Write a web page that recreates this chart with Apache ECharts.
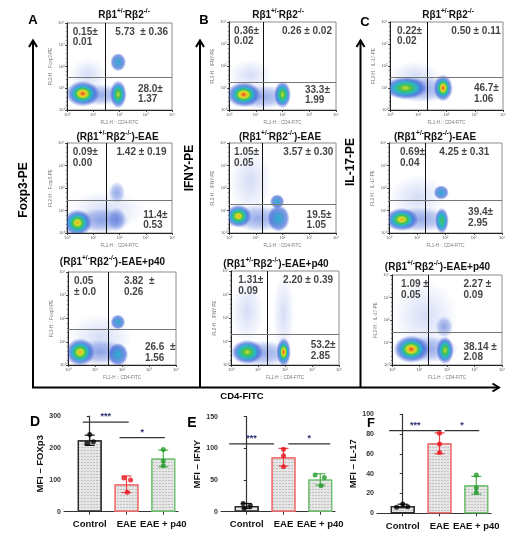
<!DOCTYPE html>
<html><head><meta charset="utf-8">
<script src="https://cdn.jsdelivr.net/npm/echarts@6/dist/echarts.min.js"></script>
<style>html,body{margin:0;padding:0;background:#fff}#c{width:526px;height:538px}</style>
</head><body><div id="c"></div>
<script>
// ================= DATA =================
// Flow cytometry: quadrant gates [x, y] in log10 decades
const gatesA = [[1.45, 1.50], [1.48, 1.47], [1.48, 1.55]];
const gatesB = [[1.27, 1.27], [1.23, 1.29], [1.33, 1.32]];
const gatesC = [[1.31, 1.50], [1.27, 1.47], [1.30, 1.47]];
// quadrant percentages [UL, UR, LR]
const pctA = [['0.15±\n0.01', '5.73  ± 0.36', '28.0±\n1.37'], ['0.09±\n0.00', '1.42 ± 0.19', '11.4±\n0.53'], ['0.05\n± 0.0', '3.82  ±\n0.26', '26.6  ±\n1.56']];
const pctB = [['0.36±\n0.02', '0.26 ± 0.02', '33.3±\n1.99'], ['1.05±\n0.05', '3.57 ± 0.30', '19.5±\n1.05'], ['1.31±\n0.09', '2.20 ± 0.39', '53.2±\n2.85']];
const pctC = [['0.22±\n0.02', '0.50 ± 0.11', '46.7±\n1.06'], ['0.69±\n0.04', '4.25 ± 0.31', '39.4±\n2.95'], ['1.09 ±\n0.05', '2.27 ±\n0.09', '38.14 ±\n2.08']];
// cell populations: [centre x, centre y, spread x, spread y, density level] (decades)
const clustersA1 = [[0.8, 1.6, 0.7, 0.8, -1], [1.2, 0.7, 1.1, 0.5, 0], [0.6, 0.75, 0.65, 0.6, 5], [1.95, 0.72, 0.32, 0.65, 3], [1.95, 2.2, 0.3, 0.42, 1]];
const clustersA2 = [[1.5, 1.0, 1.5, 0.9, -1], [1.3, 0.55, 1.1, 0.55, 0], [1.9, 0.6, 0.35, 0.55, 0], [1.9, 1.8, 0.32, 0.48, 0], [0.4, 0.45, 0.55, 0.6, 4]];
const clustersA3 = [[1.2, 1.2, 1.2, 1.0, -1], [1.2, 0.55, 1.0, 0.55, 0], [0.45, 0.55, 0.55, 0.6, 4], [1.85, 0.45, 0.38, 0.5, 1], [1.85, 1.85, 0.27, 0.32, 1]];
const clustersB1 = [[0.8, 1.6, 0.8, 0.7, -1], [1.2, 0.6, 1.1, 0.55, 0], [0.55, 0.7, 0.65, 0.58, 5], [2.0, 0.7, 0.32, 0.62, 3]];
const clustersB2 = [[0.8, 2.3, 0.8, 1.5, -1], [1.1, 0.65, 1.0, 0.6, 0], [0.35, 0.75, 0.5, 0.52, 4], [1.85, 0.65, 0.42, 0.6, 1], [1.8, 1.4, 0.27, 0.32, 1]];
const clustersB3 = [[1.95, 2.2, 0.4, 1.8, -1], [0.6, 2.3, 0.6, 1.4, -1], [1.2, 0.5, 1.0, 0.55, 0], [0.6, 0.55, 0.6, 0.52, 3], [1.95, 0.55, 0.27, 0.62, 5]];
const clustersC1 = [[0.9, 1.6, 0.9, 0.6, -1], [1.1, 0.95, 1.2, 0.6, 0], [0.55, 1.0, 0.78, 0.52, 3], [1.88, 1.0, 0.34, 0.62, 5]];
const clustersC2 = [[1.0, 1.6, 1.0, 1.0, -1], [1.1, 0.6, 1.1, 0.55, 0], [0.45, 0.6, 0.6, 0.52, 4], [1.87, 0.55, 0.24, 0.58, 2], [1.85, 1.8, 0.27, 0.32, 1]];
const clustersC3 = [[1.2, 2.2, 1.2, 1.6, -1], [1.3, 0.7, 1.1, 0.6, 0], [1.9, 1.7, 0.32, 0.48, 0], [0.7, 0.7, 0.65, 0.62, 5], [1.93, 0.65, 0.32, 0.62, 3]];
const decadeLabels = ['10⁰', '10¹', '10²', '10³', '10⁴'];

// Bar charts (MFI)
const barCats = ['Control', 'EAE', 'EAE + p40'];
const dMean = [224, 86, 167], dSD = [16, 26, 26];
const dPts = [[242, 214, 219], [106, 99, 61], [195, 159, 144]];
const eMean = [9, 86, 51], eSD = [4, 14, 9];
const ePts = [[13, 5.5, 9.5], [98.5, 88.5, 71], [58, 54, 41]];
const fMean = [7.4, 70.7, 28.3], fSD = [1.8, 10.5, 9];
const fPts = [[6, 9.4, 6.7], [80.8, 70, 61.3], [38.7, 25.9, 20.9]];
// significance bars [x from, x to, y]
const dSig = [[-0.19, 1.06, 281], [0.81, 2.04, 232.5]];
const eSig = [[-0.48, 0.74, 107], [1.13, 2.27, 107]];
const fSig = [[-0.37, 1.05, 83.5], [1.14, 2.08, 83.5]];
const sigText = ['***', '*'];

// ================= LAYOUT / STYLE =================
const FONT = '"Liberation Sans", Arial, Helvetica, sans-serif';
const rowTitles = [
  '{b|Rβ1}{s|+/-}{b|Rβ2}{s|-/-}',
  '{b|(Rβ1}{s|+/-}{b|Rβ2}{s|-/-}{b|)-EAE}',
  '{b|(Rβ1}{s|+/-}{b|Rβ2}{s|-/-}{b|)-EAE+p40}'
];
const panels = [
  {cl: clustersA1, g: gatesA[0], t: pctA[0], yn: 'FL2-H :: Foxp3-PE', box: [67, 23, 105, 87], row: 0, tx: 124, ty: 15, ul: 0.22, ur: [3.85, 'right'], lr: [2.7, 0.72]},
  {cl: clustersA2, g: gatesA[1], t: pctA[1], yn: 'FL2-H :: Foxp3-PE', box: [67, 143, 105, 90], row: 1, tx: 117.5, ty: 137, ul: 0.22, ur: [3.79, 'right'], lr: [2.9, 0.56]},
  {cl: clustersA3, g: gatesA[2], t: pctA[2], yn: 'FL2-H :: Foxp3-PE', box: [68, 272, 108, 93], row: 2, tx: 112.5, ty: 262, ul: 0.22, ur: [2.07, 'left'], lr: [2.85, 0.52]},
  {cl: clustersB1, g: gatesB[0], t: pctB[0], yn: 'FL2-H :: IFNY-PE', box: [229, 22, 107, 88], row: 0, tx: 278, ty: 15, ul: 0.19, ur: [3.85, 'right'], lr: [2.84, 0.68]},
  {cl: clustersB2, g: gatesB[1], t: pctB[1], yn: 'FL2-H :: IFNY-PE', box: [229, 143, 107, 90], row: 1, tx: 280, ty: 137, ul: 0.19, ur: [3.9, 'right'], lr: [2.9, 0.56]},
  {cl: clustersB3, g: gatesB[2], t: pctB[2], yn: 'FL2-H :: IFNY-PE', box: [231, 271, 108, 94], row: 2, tx: 276, ty: 264, ul: 0.27, ur: [3.78, 'right'], lr: [2.95, 0.6]},
  {cl: clustersC1, g: gatesC[0], t: pctC[0], yn: 'FL2-H :: IL-17-PE', box: [390, 22, 113, 88], row: 0, tx: 448, ty: 15, ul: 0.25, ur: [3.92, 'right'], lr: [2.97, 0.75]},
  {cl: clustersC2, g: gatesC[1], t: pctC[1], yn: 'FL2-H :: IL-17-PE', box: [389, 143, 113, 90], row: 1, tx: 435, ty: 137, ul: 0.39, ur: [3.55, 'right'], lr: [2.8, 0.67]},
  {cl: clustersC3, g: gatesC[2], t: pctC[2], yn: 'FL2-H :: IL-17-PE', box: [392, 275, 110, 90], row: 2, tx: 437.5, ty: 267, ul: 0.33, ur: [2.6, 'left'], lr: [2.6, 0.56]}
];
const RAMP = ['#dd3a1e', '#f2a323', '#d3df2c', '#43c152', '#29b5cf'];
function grad(l) {
  let stops = [];
  if (l >= 1) {
    const cols = RAMP.slice(5 - l), n = cols.length;
    cols.forEach((c, k) => stops.push({offset: n === 1 ? 0 : k * 0.52 / (n - 1), color: c}));
    stops.push({offset: 0.74, color: 'rgba(45,85,210,0.6)'});
    stops.push({offset: 1, color: 'rgba(45,85,210,0)'});
  } else if (l === 0) {
    stops = [{offset: 0, color: 'rgba(45,85,210,0.5)'}, {offset: 0.6, color: 'rgba(45,85,210,0.3)'}, {offset: 1, color: 'rgba(45,85,210,0)'}];
  } else {
    stops = [{offset: 0, color: 'rgba(45,85,210,0.2)'}, {offset: 1, color: 'rgba(45,85,210,0)'}];
  }
  return new echarts.graphic.RadialGradient(0.5, 0.5, 0.5, stops);
}

const grids = [], xAxes = [], yAxes = [], series = [], graphics = [];
const txt = (t) => ({fontFamily: FONT, fontWeight: 'bold', color: '#111', fontSize: 10, lineHeight: 10.5, ...t});

panels.forEach((p, i) => {
  grids.push({left: p.box[0], top: p.box[1], width: p.box[2], height: p.box[3], show: true,
    borderColor: '#8c8c8c', borderWidth: 1, containLabel: false, outerBoundsMode: 'none'});
  const ax = (name, gap, rot) => ({gridIndex: i, type: 'value', min: 0, max: 4, interval: 1,
    name: name, nameLocation: 'middle', nameGap: gap, nameRotate: rot,
    nameTextStyle: {fontSize: 4.5, color: '#777', fontFamily: FONT},
    axisLine: {show: true, onZero: false, lineStyle: {color: '#222', width: 1}},
    axisTick: {show: true, length: 2, lineStyle: {color: '#222', width: 0.8}},
    minorTick: {show: true, splitNumber: 5, length: 1.2, lineStyle: {color: '#444', width: 0.5}},
    axisLabel: {fontSize: 4, color: '#555', margin: 2.5, fontFamily: FONT, showMinLabel: true, showMaxLabel: true,
      formatter: v => decadeLabels[Math.round(v)]},
    splitLine: {show: false}});
  xAxes.push(ax('FL1-H :: CD4-FITC', 10, 0));
  yAxes.push(ax(p.yn, 14, 90));
  series.push({type: 'custom', xAxisIndex: i, yAxisIndex: i, clip: true, silent: true, z: 1,
    data: p.cl.slice().sort((a, b) => a[4] - b[4]),
    renderItem: (params, api) => {
      const c = api.coord([api.value(0), api.value(1)]);
      const s = api.size([api.value(2), api.value(3)]);
      return {type: 'circle', x: c[0], y: c[1], scaleX: s[0] / 10, scaleY: s[1] / 10,
        shape: {cx: 0, cy: 0, r: 10}, style: {fill: grad(api.value(4))}};
    }});
  series.push({type: 'scatter', xAxisIndex: i, yAxisIndex: i, symbolSize: 1, silent: true, z: 5,
    itemStyle: {color: 'transparent'},
    data: [
      {value: [p.ul, 3.82], label: {show: true, position: 'inside', align: 'left', verticalAlign: 'top', formatter: p.t[0], ...txt({})}},
      {value: [p.ur[0], 3.82], label: {show: true, position: 'inside', align: p.ur[1], verticalAlign: 'top', formatter: p.t[1], ...txt({})}},
      {value: [p.lr[0], p.lr[1]], label: {show: true, position: 'inside', align: 'left', verticalAlign: 'middle', formatter: p.t[2], ...txt({})}}
    ],
    markLine: {silent: true, symbol: 'none', animation: false, label: {show: false},
      data: [{xAxis: p.g[0], lineStyle: {color: '#111', width: 1, type: 'solid'}},
             {yAxis: p.g[1], lineStyle: {color: '#777', width: 1, type: 'solid'}}]}});
  graphics.push({type: 'text', x: p.tx, y: p.ty, style: {text: rowTitles[p.row], align: 'center', verticalAlign: 'middle',
    fill: '#111', rich: {b: {fontSize: 10, fontWeight: 'bold', fontFamily: FONT, fill: '#111', lineHeight: 14},
      s: {fontSize: 6.5, fontWeight: 'bold', fontFamily: FONT, fill: '#111', verticalAlign: 'top'}}}});
});

// ---- bar charts ----
const borderCols = ['#2b2b2b', '#f07070', '#72c272'];
const ptCols = ['#000000', '#e8141c', '#1f9a2a'];
const errCols = ['#111111', '#ee4444', '#4cb44c'];
const DECAL = {symbol: 'rect', symbolSize: 0.8, color: 'rgba(140,140,140,0.5)', dashArrayX: [[2, 1]], dashArrayY: [1, 1.5], rotation: 0};
const bars = [
  {mean: dMean, sd: dSD, pts: dPts, sig: dSig, jit: [[0, -0.08, 0.1], [-0.07, 0.11, 0.02], [0, 0, 0]],
   box: [64, 416, 114, 95.7], max: 300, interval: 100, name: 'MFI – FOXp3'},
  {mean: eMean, sd: eSD, pts: ePts, sig: eSig, jit: [[-0.1, -0.07, 0.1], [0, 0, 0], [-0.14, 0.11, 0.02]],
   box: [221, 416.7, 114, 95], max: 150, interval: 50, name: 'MFI – IFNY'},
  {mean: fMean, sd: fSD, pts: fPts, sig: fSig, jit: [[-0.17, 0, 0.14], [0, 0, 0], [0, 0, 0]],
   box: [377, 414.3, 114, 99], max: 100, interval: 20, name: 'MFI – IL-17'}
];
bars.forEach((b, k) => {
  const gi = 9 + k;
  grids.push({left: b.box[0], top: b.box[1], width: b.box[2], height: b.box[3], containLabel: false, outerBoundsMode: 'none'});
  xAxes.push({gridIndex: gi, type: 'value', min: -0.7, max: 2.4,
    axisLine: {show: true, onZero: false, lineStyle: {color: '#333', width: 1.2}},
    axisTick: {show: true, customValues: [0, 1, 2], length: 3, lineStyle: {color: '#333', width: 1}},
    axisLabel: {show: true, customValues: [0, 1, 2], formatter: v => barCats[Math.round(v)], fontSize: 9.5, fontWeight: 'bold',
      color: '#111', fontFamily: FONT, margin: 8},
    splitLine: {show: false}});
  yAxes.push({gridIndex: gi, type: 'value', min: 0, max: b.max, interval: b.interval,
    name: b.name, nameLocation: 'middle', nameGap: 17, nameRotate: 90,
    nameTextStyle: {fontSize: 9.5, fontWeight: 'bold', color: '#111', fontFamily: FONT},
    axisLine: {show: true, lineStyle: {color: '#333', width: 1.2}},
    axisTick: {show: true, length: 3, lineStyle: {color: '#333', width: 1}},
    axisLabel: {fontSize: 7, fontWeight: 'bold', color: '#333', margin: 3, fontFamily: FONT},
    splitLine: {show: false}});
  series.push({type: 'bar', xAxisIndex: gi, yAxisIndex: gi, barWidth: 24, z: 2, silent: true,
    data: b.mean.map((m, i) => ({value: [i, m], itemStyle: {color: '#e6e6e6', borderColor: borderCols[i], borderWidth: 1.2, decal: DECAL}}))});
  series.push({type: 'custom', xAxisIndex: gi, yAxisIndex: gi, z: 3, silent: true,
    data: b.mean.map((m, i) => [i, m, b.sd[i]]),
    renderItem: (params, api) => {
      const x = api.value(0), m = api.value(1), e = api.value(2);
      const t = api.coord([x, m + e]), d = api.coord([x, m - e]);
      const st = {stroke: errCols[params.dataIndex], lineWidth: 1.2};
      return {type: 'group', children: [
        {type: 'line', shape: {x1: t[0], y1: t[1], x2: d[0], y2: d[1]}, style: st},
        {type: 'line', shape: {x1: t[0] - 5, y1: t[1], x2: t[0] + 5, y2: t[1]}, style: st},
        {type: 'line', shape: {x1: d[0] - 5, y1: d[1], x2: d[0] + 5, y2: d[1]}, style: st}]};
    }});
  const pd = [];
  b.pts.forEach((arr, i) => arr.forEach((v, j) => pd.push({value: [i + b.jit[i][j], v], itemStyle: {color: ptCols[i]}})));
  series.push({type: 'scatter', xAxisIndex: gi, yAxisIndex: gi, symbolSize: 5, z: 4, silent: true, data: pd});
  series.push({type: 'custom', xAxisIndex: gi, yAxisIndex: gi, z: 4, silent: true,
    data: b.sig,
    renderItem: (params, api) => {
      const a = api.coord([api.value(0), api.value(2)]), c = api.coord([api.value(1), api.value(2)]);
      return {type: 'group', children: [
        {type: 'line', shape: {x1: a[0], y1: a[1], x2: c[0], y2: c[1]}, style: {stroke: '#333', lineWidth: 1.3}},
        {type: 'text', x: (a[0] + c[0]) / 2, y: a[1] - 1, style: {text: sigText[params.dataIndex], fill: '#2a3070',
          font: 'bold 9px ' + FONT, align: 'center', verticalAlign: 'bottom'}}]};
    }});
});

// ---- decorations: big axes, labels, panel letters ----
const L = (x1, y1, x2, y2) => ({type: 'line', shape: {x1, y1, x2, y2}, style: {stroke: '#000', lineWidth: 2}, silent: true});
const P = (pts) => ({type: 'polyline', shape: {points: pts}, style: {stroke: '#000', lineWidth: 2, fill: null}, silent: true});
[33, 200, 360.5].forEach(x => { graphics.push(L(x, 388, x, 40.5)); graphics.push(P([[x - 4, 47], [x, 40.5], [x + 4, 47]])); });
graphics.push(L(32, 387.5, 499, 387.5));
graphics.push(P([[492.5, 383.5], [499, 387.5], [492.5, 391.5]]));
const T = (text, x, y, size, rot) => ({type: 'text', x, y, rotation: rot || 0, silent: true,
  style: {text, fill: '#000', fontSize: size, fontWeight: 'bold', fontFamily: FONT, align: 'center', verticalAlign: 'middle'}});
graphics.push(T('A', 33, 20, 13), T('B', 204, 20, 13), T('C', 365, 22, 13));
graphics.push(T('D', 35, 422, 14), T('E', 192, 423, 14), T('F', 371, 423, 13));
graphics.push(T('Foxp3-PE', 24, 190, 12, Math.PI / 2), T('IFNY-PE', 190, 168, 12, Math.PI / 2), T('IL-17-PE', 350.5, 162, 12, Math.PI / 2));
graphics.push(T('CD4-FITC', 242, 396, 9.5));

const chart = echarts.init(document.getElementById('c'), null, {renderer: 'canvas'});
chart.setOption({
  animation: false,
  backgroundColor: '#ffffff',
  textStyle: {fontFamily: FONT},
  grid: grids, xAxis: xAxes, yAxis: yAxes, series: series, graphic: graphics
});
</script></body></html>
